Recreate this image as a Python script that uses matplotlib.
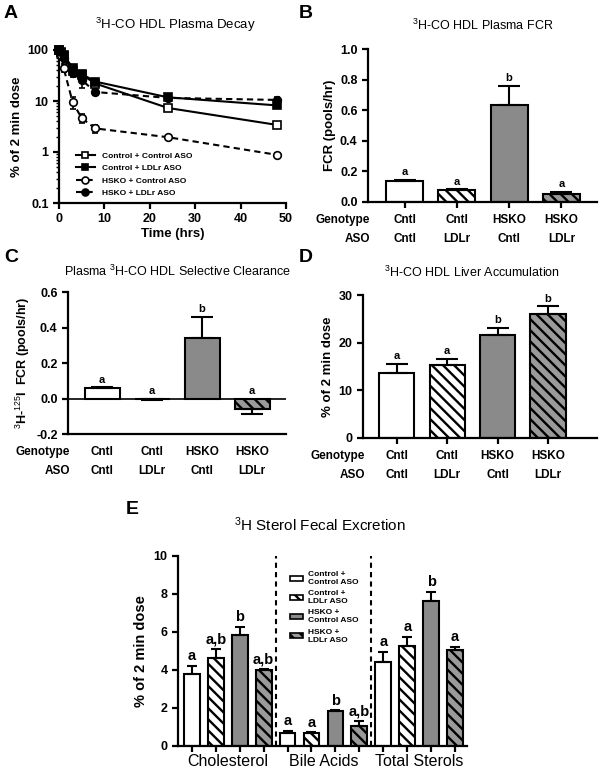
import matplotlib
matplotlib.use('Agg')
import matplotlib.pyplot as plt
import matplotlib.transforms as mtransforms
from matplotlib.lines import Line2D
from matplotlib.patches import Patch
from matplotlib.ticker import FixedLocator, FixedFormatter, NullFormatter

# ------------------------------------------------------------------------------
# Data
# ------------------------------------------------------------------------------
groups = ['Control + Control ASO', 'Control + LDLr ASO',
          'HSKO + Control ASO', 'HSKO + LDLr ASO']
groups_2line = ['Control +\nControl ASO', 'Control +\nLDLr ASO',
                'HSKO +\nControl ASO', 'HSKO +\nLDLr ASO']
genotype = ['Cntl', 'Cntl', 'HSKO', 'HSKO']
aso = ['Cntl', 'LDLr', 'Cntl', 'LDLr']

# A - plasma decay (% of 2 min dose)
time_hr = [0.033, 0.5, 1, 3, 5, 8, 24, 48]
decay_ctl_ctl = [100, 88, 75, 38, 33, 22, 7.3, 3.4]
decay_ctl_ctl_err = [3, 3, 3, 4, 3, 2, 0.6, 0.3]
decay_ctl_ldlr = [100, 92, 80, 45, 34, 24, 11.8, 8.2]
decay_ctl_ldlr_err = [3, 3, 3, 5, 4, 2, 1.0, 1.0]
decay_hsko_ctl = [100, 80, 45, 9.5, 4.6, 2.9, 1.95, 0.88]
decay_hsko_ctl_err = [3, 5, 8, 2.5, 0.9, 0.5, 0.15, 0.06]
decay_hsko_ldlr = [100, 90, 70, 35, 26, 15, 11.5, 10.5]
decay_hsko_ldlr_err = [3, 4, 6, 6, 8, 2, 1.0, 1.5]

# B - plasma FCR
fcr = [0.135, 0.08, 0.635, 0.05]
fcr_err = [0.008, 0.003, 0.125, 0.015]
fcr_let = ['a', 'a', 'b', 'a']

# C - selective clearance
sel = [0.057, -0.004, 0.34, -0.06]
sel_err = [0.006, 0.002, 0.12, 0.025]
sel_let = ['a', 'a', 'b', 'a']

# D - liver accumulation
liver = [13.7, 15.4, 21.7, 26.0]
liver_err = [1.9, 1.2, 1.4, 1.6]
liver_let = ['a', 'a', 'b', 'b']

# E - fecal excretion
fecal_cats = ['Cholesterol', 'Bile Acids', 'Total Sterols']
chol = [3.8, 4.63, 5.84, 4.0]
chol_err = [0.42, 0.47, 0.42, 0.05]
chol_let = ['a', 'a,b', 'b', 'a,b']
bile = [0.68, 0.68, 1.84, 1.05]
bile_err = [0.12, 0.04, 0.03, 0.25]
bile_let = ['a', 'a', 'b', 'a,b']
total = [4.42, 5.26, 7.63, 5.05]
total_err = [0.53, 0.48, 0.47, 0.15]
total_let = ['a', 'a', 'b', 'a']

# ------------------------------------------------------------------------------
# Style
# ------------------------------------------------------------------------------
plt.rcParams['font.family'] = ['Liberation Sans', 'DejaVu Sans']
plt.rcParams['mathtext.fontset'] = 'custom'
plt.rcParams['mathtext.rm'] = 'Liberation Sans'
plt.rcParams['mathtext.it'] = 'Liberation Sans:italic'
plt.rcParams['mathtext.bf'] = 'Liberation Sans:bold'
plt.rcParams['axes.linewidth'] = 1.6
plt.rcParams['xtick.major.width'] = 1.6
plt.rcParams['ytick.major.width'] = 1.6
plt.rcParams['xtick.major.size'] = 4
plt.rcParams['ytick.major.size'] = 4
plt.rcParams['hatch.linewidth'] = 1.7

faces = ['white', 'white', '#8a8a8a', '#9a9a9a']
hatches = [None, '\\\\\\', None, '\\\\\\']

W, H = 602, 775
fig = plt.figure(figsize=(W / 100, H / 100), dpi=100)


def box(x0, y0, x1, y1):
    return [x0 / W, 1 - y1 / H, (x1 - x0) / W, (y1 - y0) / H]


def ftext(x, y, s, **kw):
    fig.text(x / W, 1 - y / H, s, **kw)


def style_ax(ax):
    ax.spines['top'].set_visible(False)
    ax.spines['right'].set_visible(False)
    for lab in ax.get_xticklabels() + ax.get_yticklabels():
        lab.set_fontweight('bold')


def draw_bars(ax, x, vals, errs, letters, width, capsize, let_size):
    for i in range(len(vals)):
        ax.bar(x[i], vals[i], width=width, color=faces[i % 4],
               edgecolor='black', linewidth=1.5, hatch=hatches[i % 4],
               zorder=2)
        lo = errs[i] if vals[i] < 0 else 0
        hi = errs[i] if vals[i] >= 0 else 0
        ax.errorbar(x[i], vals[i], yerr=[[lo], [hi]], fmt='none',
                    ecolor='black', elinewidth=1.5, capsize=capsize,
                    capthick=1.5, zorder=3)
        top = max(vals[i] + hi, 0)
        ax.annotate(letters[i], (x[i], top), xytext=(0, 2),
                    textcoords='offset points', ha='center', va='bottom',
                    fontsize=let_size, fontweight='bold')


def row_labels(ax, x):
    t1 = mtransforms.offset_copy(ax.get_xaxis_transform(), fig=fig,
                                 y=-18, units='dots')
    t2 = mtransforms.offset_copy(ax.get_xaxis_transform(), fig=fig,
                                 y=-37, units='dots')
    tl1 = mtransforms.offset_copy(ax.transAxes, fig=fig, x=2, y=-18,
                                  units='dots')
    tl2 = mtransforms.offset_copy(ax.transAxes, fig=fig, x=2, y=-37,
                                  units='dots')
    ax.text(0, 0, 'Genotype', transform=tl1, ha='right', va='center',
            fontsize=8.5, fontweight='bold')
    ax.text(0, 0, 'ASO', transform=tl2, ha='right', va='center',
            fontsize=8.5, fontweight='bold')
    for i in range(len(x)):
        ax.text(x[i], 0, genotype[i], transform=t1, ha='center',
                va='center', fontsize=8.5, fontweight='bold')
        ax.text(x[i], 0, aso[i], transform=t2, ha='center',
                va='center', fontsize=8.5, fontweight='bold')


xb = [0, 1, 2, 3]

# ------------------------------------------------------------------------------
# Panel A
# ------------------------------------------------------------------------------
axA = fig.add_axes(box(59, 50, 286, 203))
series = [(decay_ctl_ctl, decay_ctl_ctl_err, 's', '-', 'white'),
          (decay_ctl_ldlr, decay_ctl_ldlr_err, 's', '-', 'black'),
          (decay_hsko_ctl, decay_hsko_ctl_err, 'o', '--', 'white'),
          (decay_hsko_ldlr, decay_hsko_ldlr_err, 'o', '--', 'black')]
handles = []
for vals, errs, mk, ls, mfc in series:
    ax_line = axA.errorbar(time_hr, vals, yerr=errs, color='black',
                           marker=mk, linestyle=ls, mfc=mfc, mec='black',
                           ms=5.5, mew=1.2, lw=1.5, elinewidth=1.2,
                           capsize=2, clip_on=False, zorder=3)
    if ls == '--':
        ax_line[0].set_dashes([3, 2])
    h = Line2D([], [], color='black', marker=mk, linestyle=ls, mfc=mfc,
               mec='black', ms=5, mew=1.2, lw=1.5)
    if ls == '--':
        h.set_dashes([3, 2])
    handles.append(h)

axA.set_yscale('log')
axA.set_ylim(0.1, 100)
axA.set_xlim(0, 50)
axA.yaxis.set_major_locator(FixedLocator([0.1, 1, 10, 100]))
axA.yaxis.set_major_formatter(FixedFormatter(['0.1', '1', '10', '100']))
axA.yaxis.set_minor_formatter(NullFormatter())
axA.tick_params(axis='y', which='minor', length=2, width=1)
axA.set_xticks([0, 10, 20, 30, 40, 50])
axA.tick_params(labelsize=9)
axA.set_xlabel('Time (hrs)', fontsize=9.5, fontweight='bold', labelpad=2)
axA.set_ylabel('% of 2 min dose', fontsize=9.5, fontweight='bold',
               labelpad=3)
style_ax(axA)
axA.legend(handles, groups, loc='lower left', bbox_to_anchor=(0.05, 0.0),
           frameon=False, prop={'size': 6, 'weight': 'bold'},
           handlelength=2.2, handletextpad=0.9, labelspacing=0.55,
           borderpad=0.2)
ftext(175, 25, '$^{3}$H-CO HDL Plasma Decay', ha='center', va='center',
      fontsize=9.5)

# ------------------------------------------------------------------------------
# Panel B
# ------------------------------------------------------------------------------
axB = fig.add_axes(box(368, 49, 597, 202))
draw_bars(axB, xb, fcr, fcr_err, fcr_let, 0.71, 8, 8)
axB.set_xlim(-0.7, 3.68)
axB.set_ylim(0, 1.0)
axB.set_yticks([0, 0.2, 0.4, 0.6, 0.8, 1.0])
axB.set_yticklabels(['0.0', '0.2', '0.4', '0.6', '0.8', '1.0'])
axB.set_xticks(xb)
axB.set_xticklabels([])
axB.tick_params(labelsize=9)
axB.set_ylabel('FCR (pools/hr)', fontsize=9.5, fontweight='bold',
               labelpad=3)
style_ax(axB)
row_labels(axB, xb)
ftext(483, 25, '$^{3}$H-CO HDL Plasma FCR', ha='center', va='center',
      fontsize=9)

# ------------------------------------------------------------------------------
# Panel C
# ------------------------------------------------------------------------------
axC = fig.add_axes(box(68, 292, 286, 434))
draw_bars(axC, xb, sel, sel_err, sel_let, 0.7, 8, 8)
axC.axhline(0, color='black', lw=1.2, zorder=1)
axC.set_xlim(-0.68, 3.68)
axC.set_ylim(-0.2, 0.6)
axC.set_yticks([-0.2, 0.0, 0.2, 0.4, 0.6])
axC.set_yticklabels(['-0.2', '0.0', '0.2', '0.4', '0.6'])
axC.set_xticks([])
axC.tick_params(labelsize=9)
axC.set_ylabel('$^{3}$H-$^{125}$I  FCR (pools/hr)', fontsize=9,
               fontweight='bold', labelpad=3)
style_ax(axC)
row_labels(axC, xb)
ftext(177, 271, 'Plasma $^{3}$H-CO HDL Selective Clearance', ha='center',
      va='center', fontsize=9)

# ------------------------------------------------------------------------------
# Panel D
# ------------------------------------------------------------------------------
axD = fig.add_axes(box(363, 295, 597, 438))
draw_bars(axD, xb, liver, liver_err, liver_let, 0.7, 8, 8)
axD.set_xlim(-0.67, 3.97)
axD.set_ylim(0, 30)
axD.set_yticks([0, 10, 20, 30])
axD.set_xticks(xb)
axD.set_xticklabels([])
axD.tick_params(labelsize=9)
axD.set_ylabel('% of 2 min dose', fontsize=9.5, fontweight='bold',
               labelpad=3)
style_ax(axD)
row_labels(axD, xb)
ftext(472, 272, '$^{3}$H-CO HDL Liver Accumulation', ha='center',
      va='center', fontsize=9)

# ------------------------------------------------------------------------------
# Panel E
# ------------------------------------------------------------------------------
axE = fig.add_axes(box(178, 556, 467, 746))
xe = list(range(12))
draw_bars(axE, xe, chol + bile + total, chol_err + bile_err + total_err,
          chol_let + bile_let + total_let, 0.66, 3.5, 10.5)
for xv in [3.5, 7.5]:
    axE.axvline(xv, color='black', lw=1.5, linestyle=(0, (2.5, 2)),
                zorder=1)
axE.set_xlim(-0.58, 11.5)
axE.set_ylim(0, 10)
axE.set_yticks([0, 2, 4, 6, 8, 10])
axE.set_xticks(xe)
axE.set_xticklabels([])
axE.tick_params(labelsize=9)
axE.set_ylabel('% of 2 min dose', fontsize=10.5, fontweight='bold',
               labelpad=4)
style_ax(axE)
tcat = mtransforms.offset_copy(axE.get_xaxis_transform(), fig=fig, y=-8,
                               units='dots')
for i, cat in enumerate(fecal_cats):
    axE.text(4 * i + 1.5, 0, cat, transform=tcat, ha='center', va='top',
             fontsize=11.5)
leg_handles = [Patch(facecolor=faces[i], edgecolor='black', linewidth=1.2,
                     hatch=hatches[i]) for i in range(4)]
axE.legend(leg_handles, groups_2line, loc='upper left',
           bbox_to_anchor=(0.36, 0.96), frameon=False,
           prop={'size': 6, 'weight': 'bold'}, handlelength=1.6,
           handleheight=0.6, handletextpad=0.6, labelspacing=0.5)
ftext(320, 525, '$^{3}$H Sterol Fecal Excretion', ha='center', va='center',
      fontsize=11)

# ------------------------------------------------------------------------------
# Panel letters
# ------------------------------------------------------------------------------
for lab, x, y in [('A', 11, 14), ('B', 306, 14), ('C', 11, 258),
                  ('D', 306, 258), ('E', 132, 509)]:
    ftext(x, y, lab, ha='center', va='center', fontsize=14,
          fontweight='bold')

plt.savefig('out.png', dpi=100)
